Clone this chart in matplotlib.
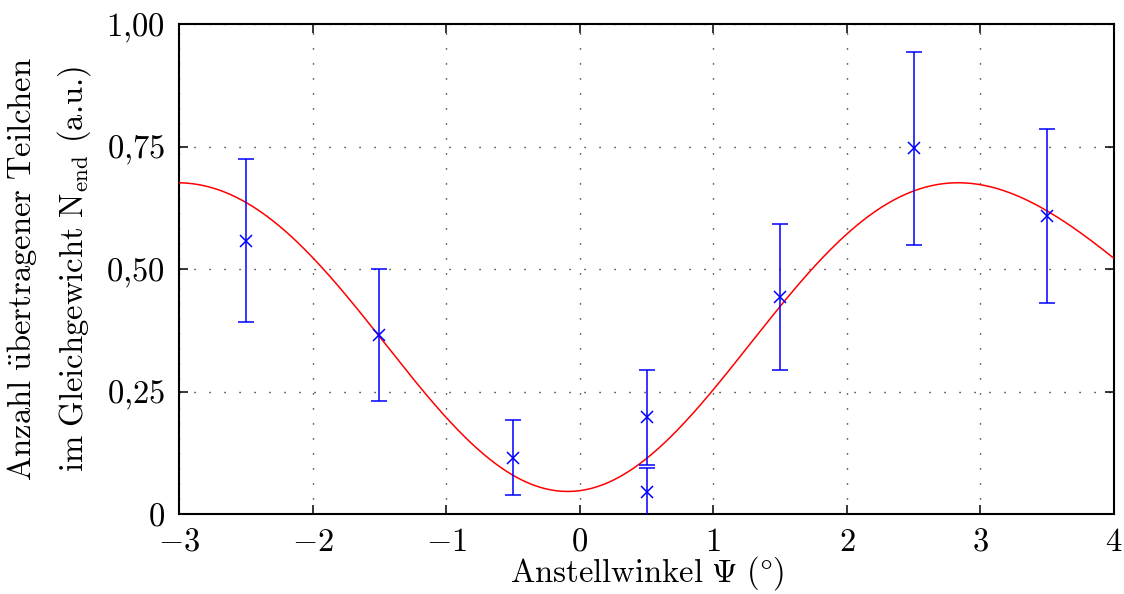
import numpy as np
import matplotlib
matplotlib.use("Agg")
import matplotlib.pyplot as plt
from matplotlib.ticker import FixedLocator, FixedFormatter

plt.rcParams["mathtext.fontset"] = "cm"
plt.rcParams["font.family"] = ["cmr10", "DejaVu Serif"]

# Measured transfer vs. tilt angle
angle = [-2.5, -1.5, -0.5, 0.5, 0.5, 1.5, 2.5, 3.5]
n_end = [0.558, 0.366, 0.115, 0.197, 0.044, 0.443, 0.746, 0.608]
n_err = [0.167, 0.135, 0.077, 0.097, 0.050, 0.149, 0.196, 0.177]

# Fit parameters: offset, amplitude, centre, linear and cubic phase terms
fit_offset = 0.361
fit_amp = 0.315
fit_x0 = -0.09
fit_k1 = 1.13
fit_k3 = -0.0065

x_ticks = [-3, -2, -1, 0, 1, 2, 3, 4]
x_labels = ["$-3$", "$-2$", "$-1$", "$0$", "$1$", "$2$", "$3$", "$4$"]
y_ticks = [0, 0.25, 0.5, 0.75, 1.0]
y_labels = ["$0$", "$0{,}25$", "$0{,}50$", "$0{,}75$", "$1{,}00$"]


def fit_curve(x):
    d = x - fit_x0
    phase = fit_k1 * d + fit_k3 * d ** 3
    return fit_offset - fit_amp * np.cos(phase)


fig = plt.figure(figsize=(11.24, 5.94), dpi=100)
ax = fig.add_axes([179 / 1124, 1 - 514 / 594, 935 / 1124, 490 / 594])

ax.set_xlim(-3, 4)
ax.set_ylim(0, 1)

ax.grid(True, color="black", linestyle=(0, (0.8, 10)), linewidth=1.0)
ax.set_axisbelow(True)

xs = np.linspace(-3, 4, 600)
ax.plot(xs, fit_curve(xs), color="#ff0000", linewidth=1.1, zorder=3)

ax.errorbar(angle, n_end, yerr=n_err, fmt="x", color="#0000ff",
            ecolor="#0000ff", elinewidth=1.1, capsize=5.6, capthick=1.1,
            markersize=8, markeredgewidth=1.1, zorder=4, clip_on=True)

ax.xaxis.set_major_locator(FixedLocator(x_ticks))
ax.xaxis.set_major_formatter(FixedFormatter(x_labels))
ax.yaxis.set_major_locator(FixedLocator(y_ticks))
ax.yaxis.set_major_formatter(FixedFormatter(y_labels))

ax.tick_params(direction="in", length=6.5, width=1.1, top=True, right=True,
               labelsize=23.5, color="black")
ax.tick_params(axis="x", pad=10)
ax.tick_params(axis="y", pad=10)
for s in ax.spines.values():
    s.set_linewidth(1.5)
    s.set_color("black")

ax.set_xlabel(r"$\mathrm{Anstellwinkel}\ \Psi\ (\degree)$", fontsize=23.5, labelpad=-2)
ax.set_ylabel("$\\mathrm{Anzahl\\ \\ddot{u}bertragener\\ Teilchen}$\n"
              "$\\mathrm{im\\ Gleichgewicht\\ N_{end}}$ (a.u.)",
              fontsize=23.5, labelpad=10, linespacing=1.55)

fig.savefig("out.png", dpi=100)
